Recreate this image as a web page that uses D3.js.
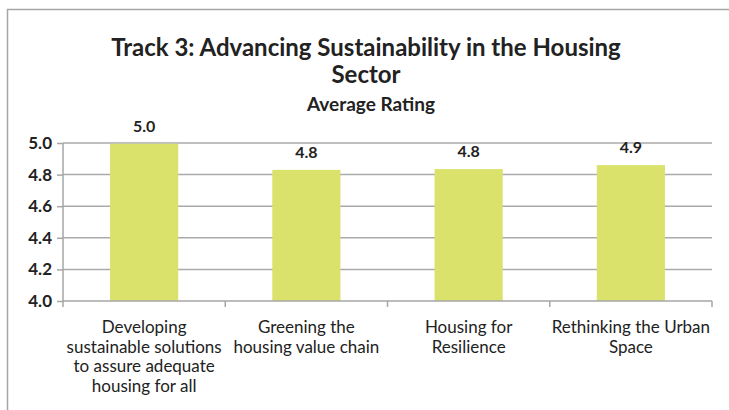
<!DOCTYPE html>
<html>
<head>
<meta charset="utf-8">
<script src="https://cdn.jsdelivr.net/npm/d3@7"></script>
<style>
  body { margin: 0; background: #fff; }
  svg { display: block; font-family: Lato, "Open Sans", sans-serif; }
</style>
</head>
<body>
<svg width="729" height="410"></svg>
<script>
// chart data
var categories = [
    ["Developing", "sustainable solutions", "to assure adequate", "housing for all"],
    ["Greening the", "housing value chain"],
    ["Housing for", "Resilience"],
    ["Rethinking the Urban", "Space"]
];
var ratings = [4.995, 4.83, 4.835, 4.86];
var valueLabels = ["5.0", "4.8", "4.8", "4.9"];
var yTicks = [4.0, 4.2, 4.4, 4.6, 4.8, 5.0];
var titleLines = ["Track 3: Advancing Sustainability in the Housing", "Sector"];
var subtitle = "Average Rating";

var svg = d3.select("svg"),
    margin = { top: 143, right: 17, bottom: 109, left: 63 },
    width = +svg.attr("width") - margin.left - margin.right,
    height = +svg.attr("height") - margin.top - margin.bottom;

// outer frame of the chart
svg.append("rect")
    .attr("x", 7.5)
    .attr("y", 9.5)
    .attr("width", 740)
    .attr("height", 420)
    .attr("fill", "#fff")
    .attr("stroke", "#a6a6a6")
    .attr("stroke-width", 1.5);

var x = d3.scaleBand()
    .domain(d3.range(categories.length))
    .range([0, width])
    .paddingInner(0.58)
    .paddingOuter(0.29);

var y = d3.scaleLinear()
    .domain([4.0, 5.0])
    .range([height, 0]);

var g = svg.append("g")
    .attr("transform", "translate(" + margin.left + "," + margin.top + ")");

// gridlines
g.append("g")
    .selectAll("line")
    .data(yTicks.slice(1))
    .join("line")
    .attr("x1", 0)
    .attr("x2", width)
    .attr("y1", function(d) { return y(d); })
    .attr("y2", function(d) { return y(d); })
    .attr("stroke", "#aaaaaa")
    .attr("stroke-width", 1.5);

// bars
g.append("g")
    .selectAll("rect")
    .data(ratings)
    .join("rect")
    .attr("x", function(d, i) { return x(i); })
    .attr("width", x.bandwidth())
    .attr("y", function(d) { return y(d); })
    .attr("height", function(d) { return height - y(d); })
    .attr("fill", "#dbe26c");

// value labels
g.append("g")
    .selectAll("text")
    .data(ratings)
    .join("text")
    .attr("x", function(d, i) { return x(i) + x.bandwidth() / 2; })
    .attr("y", function(d) { return y(d) - 12; })
    .attr("text-anchor", "middle")
    .attr("font-size", 16)
    .attr("font-weight", "bold")
    .attr("fill", "#222")
    .text(function(d, i) { return valueLabels[i]; });

// y axis
var yAxis = d3.axisLeft(y)
    .tickValues(yTicks)
    .tickFormat(d3.format(".1f"))
    .tickSize(6)
    .tickPadding(5);

var yg = g.append("g").call(yAxis);
yg.select(".domain").attr("stroke", "#a6a6a6").attr("stroke-width", 1.5).attr("d", "M0,0V" + height);
yg.selectAll(".tick line").attr("stroke", "#a6a6a6").attr("stroke-width", 1.5);
yg.selectAll(".tick text")
    .attr("font-size", 17)
    .attr("font-weight", "bold")
    .attr("font-family", "Lato, sans-serif")
    .attr("fill", "#222");

// x axis line and ticks at category boundaries
var step = width / categories.length;
g.append("line")
    .attr("x1", 0).attr("x2", width)
    .attr("y1", height).attr("y2", height)
    .attr("stroke", "#a6a6a6")
    .attr("stroke-width", 1.5);
g.append("g")
    .selectAll("line")
    .data(d3.range(categories.length + 1))
    .join("line")
    .attr("x1", function(d) { return d * step; })
    .attr("x2", function(d) { return d * step; })
    .attr("y1", height)
    .attr("y2", height + 6)
    .attr("stroke", "#a6a6a6")
    .attr("stroke-width", 1.5);

// category labels
var xl = g.append("g")
    .selectAll("text")
    .data(categories)
    .join("text")
    .attr("text-anchor", "middle")
    .attr("font-size", 17)
    .attr("fill", "#222")
    .attr("transform", function(d, i) {
        return "translate(" + (x(i) + x.bandwidth() / 2) + "," + (height + 32) + ")";
    });
xl.selectAll("tspan")
    .data(function(d) { return d; })
    .join("tspan")
    .attr("x", 0)
    .attr("y", function(d, i) { return i * 19.5; })
    .text(function(d) { return d; });

// titles
svg.append("g")
    .selectAll("text")
    .data(titleLines)
    .join("text")
    .attr("x", 366)
    .attr("y", function(d, i) { return 56 + i * 27; })
    .attr("text-anchor", "middle")
    .attr("font-size", 24)
    .attr("font-weight", "bold")
    .attr("fill", "#222")
    .text(function(d) { return d; });

svg.append("text")
    .attr("x", 371)
    .attr("y", 111)
    .attr("text-anchor", "middle")
    .attr("font-size", 19)
    .attr("font-weight", "bold")
    .attr("fill", "#222")
    .text(subtitle);
</script>
</body>
</html>
